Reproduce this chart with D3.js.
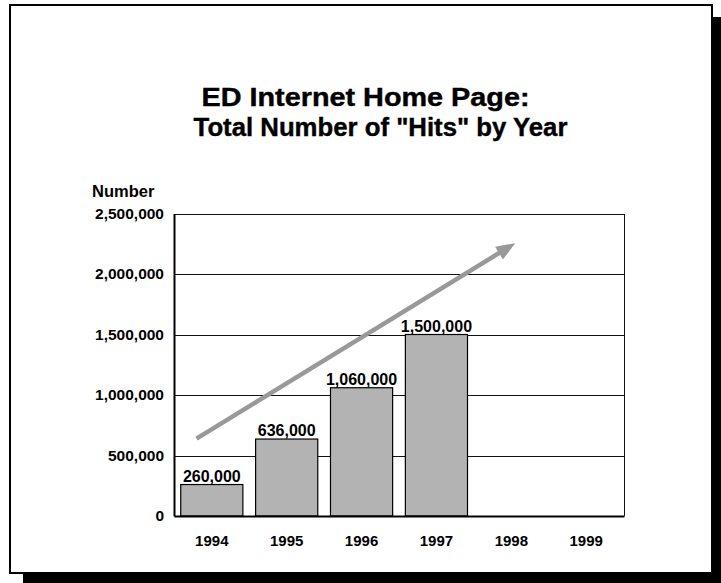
<!DOCTYPE html>
<html>
<head>
<meta charset="utf-8">
<script src="https://cdn.jsdelivr.net/npm/d3@7"></script>
<style>
  html, body { margin: 0; padding: 0; background: #fff; }
  svg { display: block; font-family: "Liberation Sans", Arial, sans-serif; font-weight: bold; }
</style>
</head>
<body>
<svg id="chart" width="721" height="583"></svg>
<script>
// Annual hits on the ED Internet home page
const years = ["1994", "1995", "1996", "1997", "1998", "1999"];
const hits = [260000, 636000, 1060000, 1500000, null, null];
const yTicks = [0, 500000, 1000000, 1500000, 2000000, 2500000];
const titleLines = ["ED Internet Home Page:", "Total Number of \"Hits\" by Year"];
// Growth trend arrow, in (category position, value) terms
const trendFrom = [0.3, 640000];
const trendTo = [4.55, 2255000];

const svg = d3.select("#chart");

// Slide frame with drop shadow
svg.append("rect").attr("x", 23).attr("y", 17).attr("width", 710).attr("height", 580).attr("fill", "#000");
svg.append("rect").attr("x", 10).attr("y", 5).attr("width", 702).attr("height", 568)
  .attr("fill", "#fff").attr("stroke", "#000").attr("stroke-width", 2);

// Title (wide bold face)
const titleX = [365.5, 380.5];
const titleStretch = [1.13, 1.01];
svg.append("g").selectAll("text").data(titleLines).join("text")
  .attr("transform", (d, i) => `translate(${titleX[i]},${106 + i * 30}) scale(${titleStretch[i]},1)`)
  .attr("text-anchor", "middle")
  .attr("font-size", 25.5)
  .attr("stroke", "#000").attr("stroke-width", 0.4)
  .attr("fill", "#000")
  .text(d => d);

const plot = { left: 174, right: 624, top: 213.5, bottom: 516 };

const x = d3.scaleBand().domain(years).range([plot.left, plot.right]).paddingInner(0.17).paddingOuter(0.09);
const xPos = d3.scaleLinear().domain([0, years.length]).range([plot.left, plot.right]);
const y = d3.scaleLinear().domain([0, 2500000]).range([plot.bottom, plot.top]);

// Gridlines and plot frame
const grid = svg.append("g").attr("shape-rendering", "crispEdges");
grid.selectAll("line").data(yTicks.filter(t => t > 0)).join("line")
  .attr("x1", plot.left).attr("x2", plot.right)
  .attr("y1", d => Math.round(y(d))).attr("y2", d => Math.round(y(d)))
  .attr("stroke", "#111").attr("stroke-width", 1);
grid.append("line").attr("x1", plot.right).attr("x2", plot.right)
  .attr("y1", plot.top).attr("y2", plot.bottom).attr("stroke", "#111").attr("stroke-width", 1);

// Y axis labels
const yAxis = d3.axisLeft(y).tickValues(yTicks).tickSize(0).tickPadding(10).tickFormat(d3.format(","));
const yg = svg.append("g").attr("transform", `translate(${plot.left},0)`).call(yAxis);
yg.select(".domain").attr("stroke", "#000").attr("stroke-width", 2);
yg.selectAll("text").attr("font-size", 15.5).attr("font-family", "Liberation Sans, Arial, sans-serif")
  .attr("font-weight", "bold").attr("fill", "#000");

svg.append("text").attr("x", 92).attr("y", 196.5).attr("font-size", 16.5).attr("fill", "#000").text("Number");

// Bars
const data = years.map((yr, i) => ({ year: yr, value: hits[i] })).filter(d => d.value != null);
svg.append("g").selectAll("rect").data(data).join("rect")
  .attr("x", d => x(d.year))
  .attr("y", d => y(d.value))
  .attr("width", x.bandwidth())
  .attr("height", d => y(0) - y(d.value))
  .attr("fill", "#b3b3b3")
  .attr("stroke", "#000")
  .attr("stroke-width", 1.2);

// Value labels
svg.append("g").selectAll("text").data(data).join("text")
  .attr("x", d => x(d.year) + x.bandwidth() / 2)
  .attr("y", d => y(d.value) - 3)
  .attr("text-anchor", "middle")
  .attr("font-size", 16)
  .attr("fill", "#000")
  .text(d => d3.format(",")(d.value));

// X axis
const xAxis = d3.axisBottom(x).tickSize(0).tickPadding(19);
const xg = svg.append("g").attr("transform", `translate(0,${plot.bottom})`).call(xAxis);
xg.select(".domain").attr("stroke", "#000").attr("stroke-width", 2);
xg.selectAll("text").attr("font-size", 15).attr("font-family", "Liberation Sans, Arial, sans-serif")
  .attr("font-weight", "bold").attr("fill", "#000");

// Trend arrow
const x0 = xPos(trendFrom[0]), y0 = y(trendFrom[1]);
const x1 = xPos(trendTo[0]), y1 = y(trendTo[1]);
const ang = Math.atan2(y1 - y0, x1 - x0);
const headLen = 19, headHalf = 7.5;
const bx = x1 - headLen * Math.cos(ang), by = y1 - headLen * Math.sin(ang);
svg.append("line")
  .attr("x1", x0).attr("y1", y0).attr("x2", bx + 3 * Math.cos(ang)).attr("y2", by + 3 * Math.sin(ang))
  .attr("stroke", "#999").attr("stroke-width", 4.5);
svg.append("path")
  .attr("d", d3.line()([
    [x1, y1],
    [bx + headHalf * Math.sin(ang), by - headHalf * Math.cos(ang)],
    [bx - headHalf * Math.sin(ang), by + headHalf * Math.cos(ang)]
  ]) + "Z")
  .attr("fill", "#999");
</script>
</body>
</html>
